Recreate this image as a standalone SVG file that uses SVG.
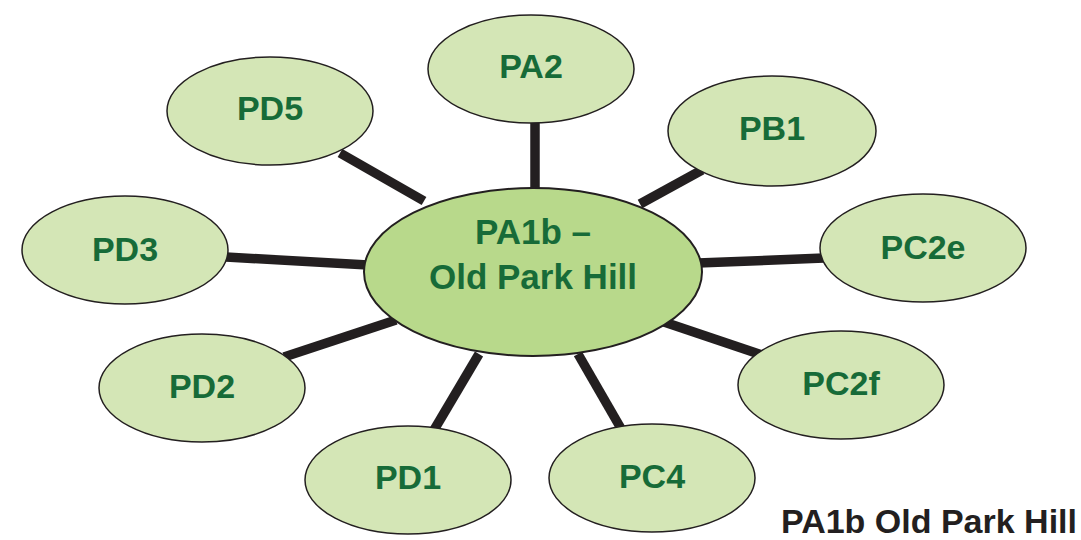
<svg xmlns="http://www.w3.org/2000/svg" width="1081" height="540" viewBox="0 0 1081 540">
  <style>
    .link { stroke: #231f20; stroke-width: 9.5; fill: none; }
    .leaf { fill: #d4e6b6; stroke: #231f20; stroke-width: 1.5; }
    .hub { fill: #b8d98b; stroke: #231f20; stroke-width: 2; }
    .lbl { font-family: "Liberation Sans", Arial, sans-serif; font-weight: bold; font-size: 34px; fill: #176b38; text-anchor: middle; }
    .hubl { font-size: 35px; }
    .cap { font-family: "Liberation Sans", Arial, sans-serif; font-weight: bold; font-size: 34px; fill: #231f20; text-anchor: end; }
  </style>
  <rect width="1081" height="540" fill="#ffffff"/>

  <!-- spokes from the hub to each area -->
  <g id="connectors">
    <line class="link" x1="535" y1="120" x2="535" y2="192"/>
    <line class="link" x1="340" y1="153" x2="424" y2="201"/>
    <line class="link" x1="702" y1="170" x2="640" y2="204"/>
    <line class="link" x1="226" y1="257" x2="368" y2="265"/>
    <line class="link" x1="698" y1="263" x2="824" y2="258"/>
    <line class="link" x1="284" y1="357" x2="396" y2="320"/>
    <line class="link" x1="664" y1="322" x2="762" y2="355"/>
    <line class="link" x1="434" y1="430" x2="479" y2="354"/>
    <line class="link" x1="578" y1="354" x2="623" y2="432"/>
  </g>

  <g id="PA2">
    <ellipse class="leaf" cx="531" cy="69" rx="103" ry="54"/>
    <text class="lbl" x="531" y="78">PA2</text>
  </g>
  <g id="PD5">
    <ellipse class="leaf" cx="270" cy="111" rx="103" ry="54"/>
    <text class="lbl" x="270" y="120">PD5</text>
  </g>
  <g id="PB1">
    <ellipse class="leaf" cx="772" cy="131" rx="104" ry="55"/>
    <text class="lbl" x="772" y="140">PB1</text>
  </g>
  <g id="PD3">
    <ellipse class="leaf" cx="125" cy="250" rx="103" ry="54"/>
    <text class="lbl" x="125" y="261">PD3</text>
  </g>
  <g id="PC2e">
    <ellipse class="leaf" cx="923" cy="248" rx="103" ry="54"/>
    <text class="lbl" x="923" y="259">PC2e</text>
  </g>
  <g id="PD2">
    <ellipse class="leaf" cx="202" cy="388" rx="103" ry="54"/>
    <text class="lbl" x="202" y="398">PD2</text>
  </g>
  <g id="PC2f">
    <ellipse class="leaf" cx="841" cy="385" rx="103" ry="54"/>
    <text class="lbl" x="841" y="395">PC2f</text>
  </g>
  <g id="PD1">
    <ellipse class="leaf" cx="408" cy="480" rx="103" ry="54"/>
    <text class="lbl" x="408" y="489">PD1</text>
  </g>
  <g id="PC4">
    <ellipse class="leaf" cx="652" cy="478" rx="103" ry="54"/>
    <text class="lbl" x="652" y="488">PC4</text>
  </g>

  <g id="PA1b">
    <ellipse class="hub" cx="533" cy="272" rx="169" ry="84"/>
    <text class="lbl hubl" x="533" y="244">PA1b –</text>
    <text class="lbl hubl" x="533" y="289">Old Park Hill</text>
  </g>

  <text class="cap" x="1077" y="533">PA1b Old Park Hill</text>
</svg>
